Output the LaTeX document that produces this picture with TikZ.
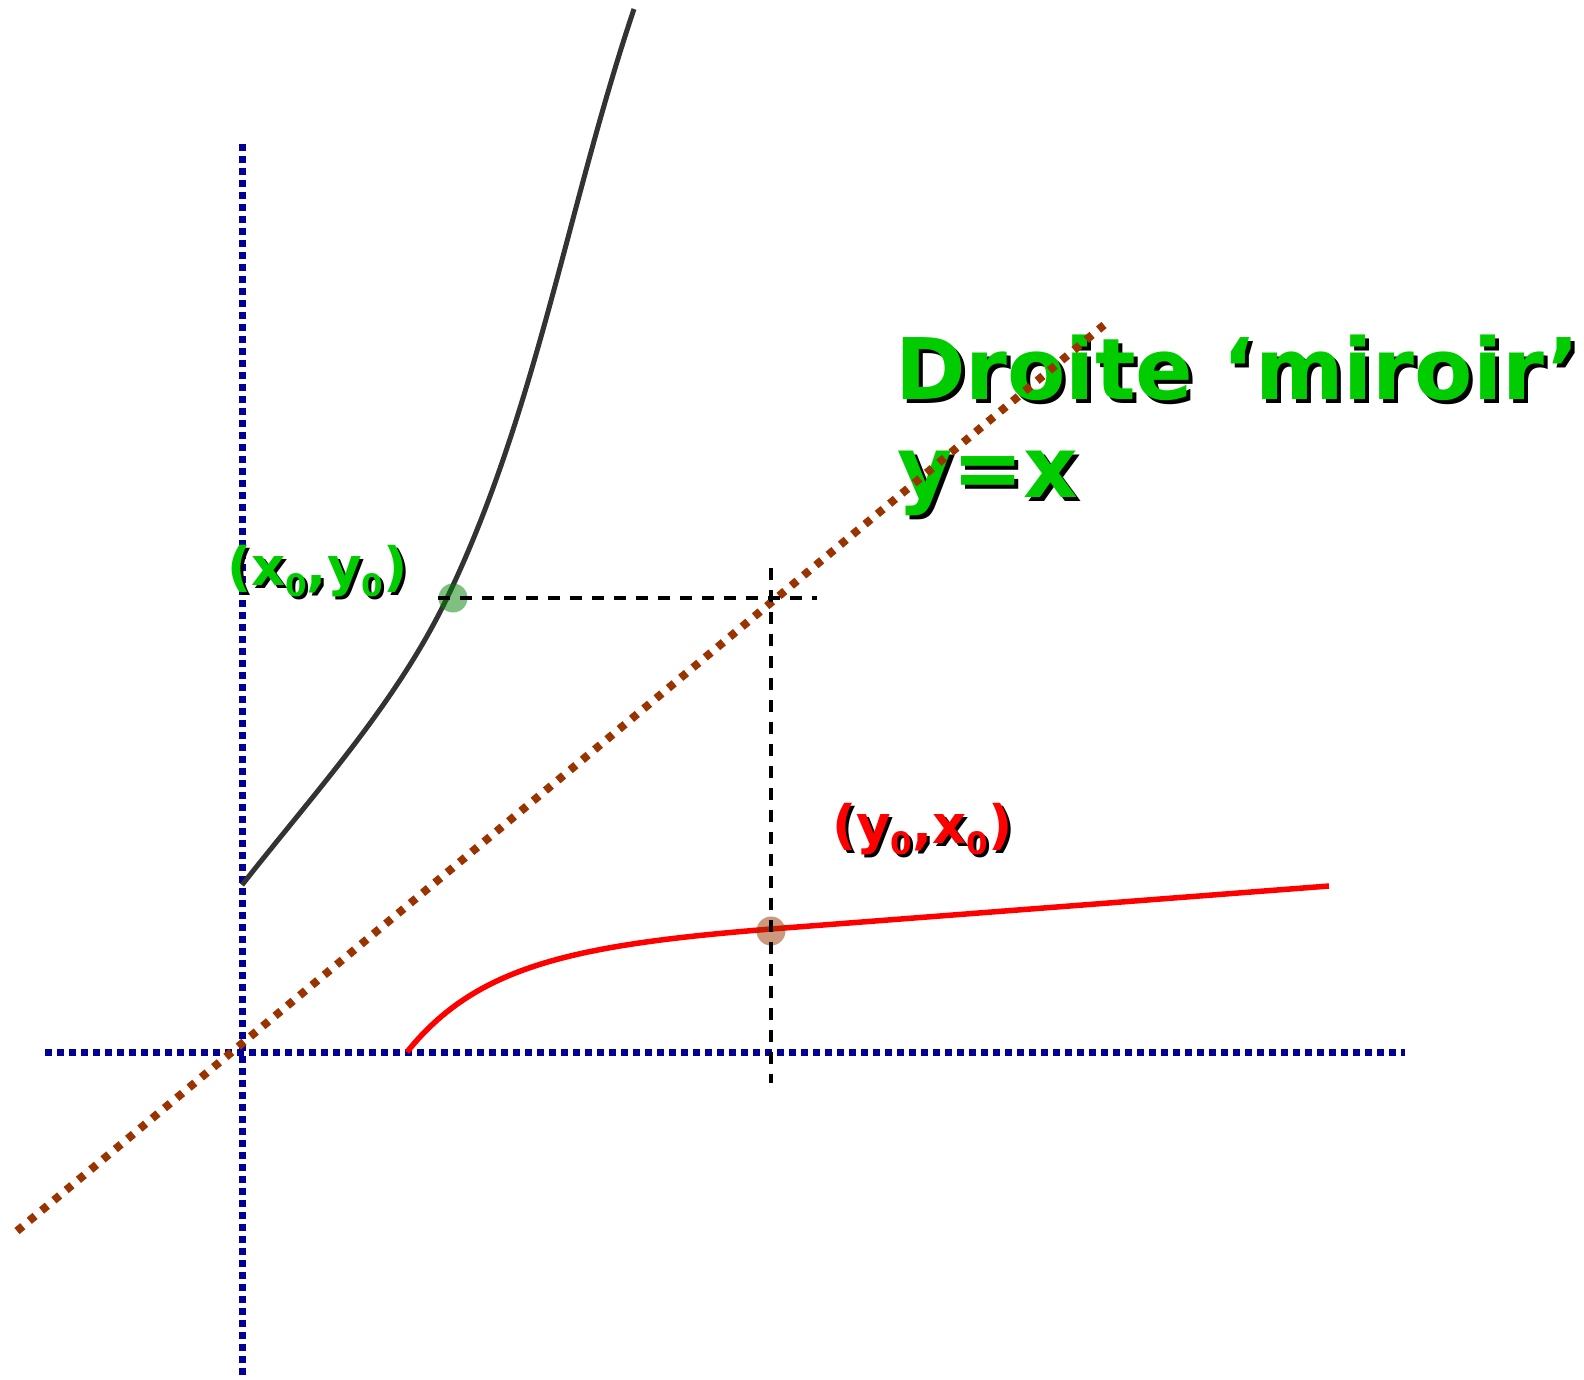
\documentclass[tikz,border=0pt]{standalone}
\usepackage{fontspec}
\setmainfont{DejaVu Sans}
\newcommand{\lowsub}[1]{\raisebox{-0.22em}{\fontsize{31}{31}\selectfont #1}}
\newcommand{\shadowtxt}[3]{\rlap{\hspace*{#3}\raisebox{-#3}{\color{black}#2}}{\color{#1}#2}}
\tikzset{
  axisline/.style={draw={rgb,255:red,0;green,0;blue,153}, line width=7pt, dash pattern=on 6.5pt off 5.5pt},
  mirrorline/.style={draw={rgb,255:red,153;green,51;blue,0}, line width=8pt, dash pattern=on 7.5pt off 8.5pt},
  guide/.style={draw=black, line width=3.5pt, dash pattern=on 12pt off 10pt},
  bigtxt/.style={inner sep=0pt, outer sep=0pt, anchor=base west, font=\fontsize{85}{90}\selectfont\bfseries},
  smalltxt/.style={inner sep=0pt, outer sep=0pt, anchor=base west, font=\fontsize{53}{56}\selectfont\bfseries},
}
\definecolor{txtgreen}{RGB}{0,204,0}
\definecolor{curvegray}{RGB}{51,51,51}
\begin{document}
\begin{tikzpicture}[x=1pt,y=-1pt]
\useasboundingbox (0,0) rectangle (1584,1379);
% axes
\coordinate (ytop) at (242,144);
\coordinate (ybot) at (242,1379);
\coordinate (xleft) at (45,1052);
\coordinate (xright) at (1405,1052);
\draw[axisline] (ytop) -- (ybot);
\draw[axisline] (xleft) -- (xright);
% curves
\coordinate (cstart) at (242,885);
\coordinate (cend) at (634,9);
\coordinate (rstart) at (407,1052);
\coordinate (rend) at (1329,886);
\draw[curvegray, line width=5pt] (cstart) .. controls (315,792) and (396,704) .. (447,598)
   .. controls (536,413) and (568,205) .. (cend);
\draw[red, line width=5.5pt] (rstart) .. controls (476,966) and (572,945) .. (771,929) -- (rend);
% points
\node[circle, fill={rgb,255:red,0;green,128;blue,0}, fill opacity=0.5, minimum size=29pt, inner sep=0pt] (p1) at (453,598) {};
\node[circle, fill={rgb,255:red,153;green,51;blue,0}, fill opacity=0.5, minimum size=29pt, inner sep=0pt] (p2) at (771,931) {};
% texts
\node[bigtxt] (t1) at (895,399) {\shadowtxt{txtgreen}{Droite ‘miroir’}{4pt}};
\node[bigtxt] (t2) at (897,497) {\shadowtxt{txtgreen}{y=x}{4pt}};
\node[smalltxt] (l1) at (227,585) {\shadowtxt{txtgreen}{(x\lowsub{0},y\lowsub{0})}{3pt}};
\node[smalltxt] (l2) at (832,843) {\shadowtxt{red}{(y\lowsub{0},x\lowsub{0})}{3pt}};
% mirror line
\coordinate (dlow) at (17,1231);
\coordinate (dhigh) at (1104,325);
\draw[mirrorline] (dlow) -- (dhigh);
% guides
\coordinate (hstart) at (438,598);
\coordinate (hend) at (817,598);
\coordinate (vstart) at (771,568);
\coordinate (vend) at (771,1083);
\draw[guide] (hstart) -- (hend);
\draw[guide] (vstart) -- (vend);
\end{tikzpicture}
\end{document}
